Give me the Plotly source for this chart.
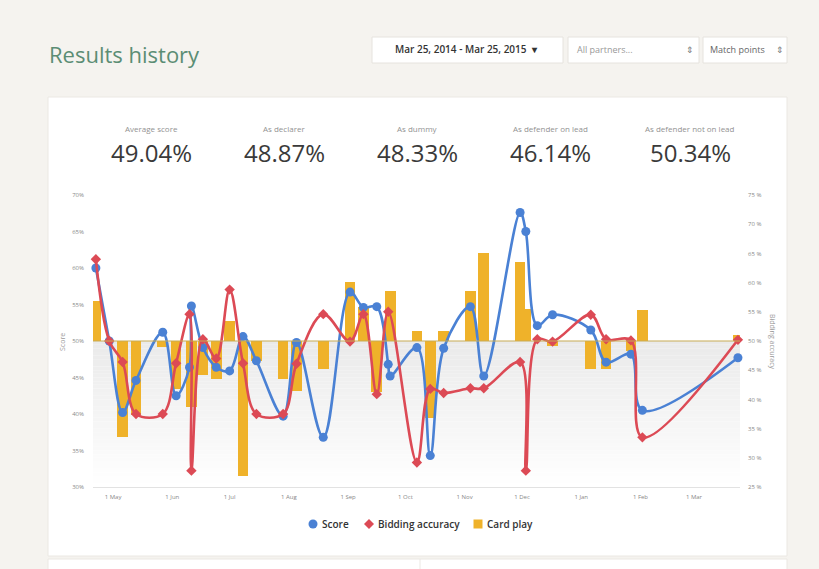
import plotly.graph_objects as go

# ---------------- data ----------------
dates = ["2014-04-22", "2014-04-29", "2014-05-06", "2014-05-13", "2014-05-27", "2014-06-03",
         "2014-06-10", "2014-06-11", "2014-06-17", "2014-06-24", "2014-07-01", "2014-07-08",
         "2014-07-15", "2014-07-29", "2014-08-05", "2014-08-19", "2014-09-02", "2014-09-09",
         "2014-09-16", "2014-09-22", "2014-09-23", "2014-10-07", "2014-10-14", "2014-10-21",
         "2014-11-04", "2014-11-11", "2014-11-30", "2014-12-03", "2014-12-09", "2014-12-17",
         "2015-01-06", "2015-01-14", "2015-01-27", "2015-02-02", "2015-03-24"]

score = [60.0, 50.0, 40.2, 44.6, 51.2, 42.5,
         46.4, 54.8, 49.1, 46.4, 45.9, 50.6,
         47.3, 39.7, 49.8, 36.8, 56.7, 54.6,
         54.7, 46.8, 45.2, 49.1, 34.3, 49.0,
         54.7, 45.2, 67.6, 65.0, 52.1, 53.6,
         51.5, 47.1, 48.2, 40.5, 47.7]

bidding = [64.0, 50.0, 46.4, 37.5, 37.5, 46.2,
           54.6, 27.8, 50.3, 47.0, 58.8, 46.2,
           37.5, 37.5, 46.1, 54.6, 49.9, 54.6,
           40.9, 55.0, None, 29.2, 41.8, 41.1,
           41.9, 41.9, 46.4, 27.8, 50.3, 49.9,
           54.5, 50.3, 50.1, 33.5, 50.2]

card_play = [55.5, None, 36.8, 39.8, 49.2, 43.4,
             None, 41.0, 45.3, 44.8, 52.8, 31.5,
             47.3, 44.8, 43.2, 46.1, 58.1, 54.7,
             43.0, None, 56.8, 51.4, 39.5, 51.4,
             56.8, 62.1, 60.8, 54.4, None, 49.3,
             46.2, 46.2, 48.6, 54.2, 50.8]

stat_labels = ["Average score", "As declarer", "As dummy", "As defender on lead", "As defender not on lead"]
stat_values = ["49.04%", "48.87%", "48.33%", "46.14%", "50.34%"]

score_ticks = [30, 35, 40, 45, 50, 55, 60, 65, 70]
bidding_ticks = [25, 30, 35, 40, 45, 50, 55, 60, 65, 70, 75]
threshold = 50
x_range = ["2014-04-20 12:00", "2015-03-25 02:00"]
legend_names = ["Score", "Bidding accuracy", "Card play"]

# ---------------- styling ----------------
BLUE = "#4a81d4"
RED = "#dc4a55"
GOLD = "#efb22a"
BG = "#f5f3ef"
FONT = "Open Sans"

L, R, T, B = 93, 740, 195, 487
W, H = 819, 569


def px(x):
    return (x - L) / (R - L)


def py(y):
    return (B - y) / (B - T)


fig = go.Figure()

# card play bars (relative to 50%)
fig.add_trace(go.Bar(
    x=dates, y=[None if v is None else v - threshold for v in card_play], base=threshold,
    width=5.6 * 86400000, marker=dict(color=GOLD, line=dict(width=0)),
    name="Card play", showlegend=False, yaxis="y"))

fig.add_trace(go.Scatter(
    x=dates, y=bidding, mode="lines+markers", connectgaps=True, yaxis="y2",
    line=dict(color=RED, width=2.6, shape="spline", smoothing=1.0),
    marker=dict(symbol="diamond", size=8, color=RED),
    name="Bidding accuracy", showlegend=False, cliponaxis=False))

fig.add_trace(go.Scatter(
    x=dates, y=score, mode="lines+markers", yaxis="y",
    line=dict(color=BLUE, width=2.6, shape="spline", smoothing=1.0),
    marker=dict(symbol="circle", size=9, color=BLUE),
    name="Score", showlegend=False, cliponaxis=False))

shapes = []
# white card
shapes.append(dict(type="rect", xref="paper", yref="paper", x0=px(48), x1=px(787), y0=py(556), y1=py(97),
                   fillcolor="white", line=dict(color="#ebe8e3", width=1), layer="below"))
# lower card
shapes.append(dict(type="rect", xref="paper", yref="paper", x0=px(48), x1=px(787), y0=py(600), y1=py(559),
                   fillcolor="white", line=dict(color="#ebe8e3", width=1), layer="below"))
shapes.append(dict(type="line", xref="paper", yref="paper", x0=px(420), x1=px(420), y0=py(600), y1=py(559),
                   line=dict(color="#ebe8e3", width=1), layer="below"))
# dropdowns
for x0, x1 in [(372, 563), (568, 699), (703, 787)]:
    shapes.append(dict(type="rect", xref="paper", yref="paper", x0=px(x0), x1=px(x1), y0=py(63), y1=py(37),
                       fillcolor="white", line=dict(color="#e6e3de", width=1), layer="below"))

# gradient shading below the 50% line (stacked strips)
n_strips = 40
lo, hi = score_ticks[0], threshold
for i in range(n_strips):
    y0 = lo + (hi - lo) * i / n_strips
    y1 = lo + (hi - lo) * (i + 1) / n_strips
    t = (i + 0.5) / n_strips
    g = int(round(255 - (255 - 234) * t))
    shapes.append(dict(type="rect", xref="paper", yref="y", x0=0, x1=1, y0=y0, y1=y1,
                       fillcolor=f"rgb({g},{g},{g})", line=dict(width=0), layer="below"))

# 50% line
shapes.append(dict(type="line", xref="paper", yref="y", x0=0, x1=1, y0=threshold, y1=threshold,
                   line=dict(color="#c7ab55", width=1), layer="above"))

# custom legend symbols
lx = [313, 369, 478]
ly = 524
shapes.append(dict(type="circle", xref="paper", yref="paper", x0=px(lx[0] - 4.5), x1=px(lx[0] + 4.5),
                   y0=py(ly + 4.5), y1=py(ly - 4.5), fillcolor=BLUE, line=dict(width=0)))
d = 5
shapes.append(dict(type="path", xref="paper", yref="paper",
                   path=f"M {px(lx[1])} {py(ly - d)} L {px(lx[1] + d)} {py(ly)} L {px(lx[1])} {py(ly + d)} "
                        f"L {px(lx[1] - d)} {py(ly)} Z",
                   fillcolor=RED, line=dict(width=0)))
shapes.append(dict(type="rect", xref="paper", yref="paper", x0=px(lx[2] - 4.5), x1=px(lx[2] + 4.5),
                   y0=py(ly + 4.5), y1=py(ly - 4.5), fillcolor=GOLD, line=dict(width=0)))

for s in shapes:
    fig.add_shape(**s)

ann = []
ann.append(dict(text="Results history", x=px(47), y=py(54), xanchor="left", yanchor="middle",
                font=dict(family=FONT, size=22, color="#5b8d74")))
ann.append(dict(text="Mar 25, 2014 - Mar 25, 2015  ▾", x=px(467), y=py(49), xanchor="center", yanchor="middle",
                font=dict(family=FONT, size=10, color="#333333", weight=600)))
ann.append(dict(text="All partners...", x=px(575), y=py(49), xanchor="left", yanchor="middle",
                font=dict(family=FONT, size=9, color="#999999")))
ann.append(dict(text="⇕", x=px(690), y=py(49), xanchor="center", yanchor="middle",
                font=dict(family=FONT, size=9, color="#777777")))
ann.append(dict(text="Match points", x=px(708), y=py(49), xanchor="left", yanchor="middle",
                font=dict(family=FONT, size=9, color="#666666")))
ann.append(dict(text="⇕", x=px(780), y=py(49), xanchor="center", yanchor="middle",
                font=dict(family=FONT, size=9, color="#777777")))

centers = [151, 284, 417, 550, 690]
for cx, lab, val in zip(centers, stat_labels, stat_values):
    ann.append(dict(text=lab, x=px(cx), y=py(128), xanchor="center", yanchor="middle",
                    font=dict(family=FONT, size=8, color="#929292")))
    ann.append(dict(text=val, x=px(cx), y=py(152), xanchor="center", yanchor="middle",
                    font=dict(family=FONT, size=24, color="#3a3a3a")))

ann.append(dict(text="Score", x=px(62), y=py(342), textangle=-90, xanchor="center", yanchor="middle",
                font=dict(family=FONT, size=7, color="#999999")))
ann.append(dict(text="Bidding accuracy", x=px(773), y=py(342), textangle=90, xanchor="center", yanchor="middle",
                font=dict(family=FONT, size=7, color="#999999")))

# legend texts
for name, x in zip(legend_names, lx):
    ann.append(dict(text=name, x=px(x + 7), y=py(ly), xanchor="left", yanchor="middle",
                    font=dict(family=FONT, size=10, color="#333333", weight=600)))

for a in ann:
    a.update(xref="paper", yref="paper", showarrow=False)
    fig.add_annotation(**a)

fig.update_layout(
    width=W, height=H,
    margin=dict(l=L, r=W - R, t=T, b=H - B, pad=0),
    paper_bgcolor=BG, plot_bgcolor="rgba(0,0,0,0)",
    font=dict(family=FONT, color="#999999"),
    barmode="overlay", bargap=0,
    showlegend=False,
    xaxis=dict(type="date", range=x_range, dtick="M1", tick0="2014-05-01", tickformat="%-d %b",
               showgrid=False, zeroline=False, showline=True, linecolor="#e2e2e2", linewidth=1,
               ticks="", tickfont=dict(family=FONT, size=6, color="#888888"), ticklabelstandoff=4),
    yaxis=dict(range=[score_ticks[0], score_ticks[-1]], tickvals=score_ticks,
               ticktext=[f"{v}%" for v in score_ticks],
               showgrid=False, zeroline=False, showline=False, ticks="",
               tickfont=dict(family=FONT, size=6, color="#888888"), ticklabelstandoff=8),
    yaxis2=dict(range=[bidding_ticks[0], bidding_ticks[-1]], tickvals=bidding_ticks,
                ticktext=[f"{v} %" for v in bidding_ticks],
                overlaying="y", side="right", showgrid=False, zeroline=False, showline=False, ticks="",
                tickfont=dict(family=FONT, size=6, color="#888888"), ticklabelstandoff=7),
)

fig.write_html("out.html", config={"displayModeBar": False},
               post_script="document.body.style.margin='0px';")
